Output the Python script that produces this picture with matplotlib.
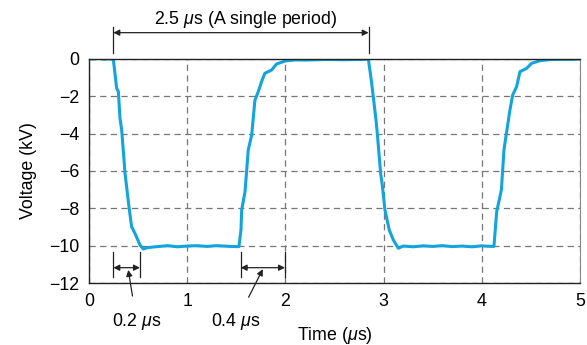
import matplotlib
matplotlib.use("Agg")
import matplotlib.pyplot as plt

plt.rcParams['font.family'] = ['Liberation Sans', 'DejaVu Sans']
plt.rcParams['mathtext.fontset'] = 'custom'
plt.rcParams['mathtext.rm'] = 'Liberation Sans'
plt.rcParams['mathtext.it'] = 'Liberation Sans:italic'

TRACE_COLOR = '#12a4dd'
FS = 12.8

# scope trace (time in us, voltage in kV)
time_us = [
    0.00, 0.05, 0.10, 0.15, 0.20, 0.248, 0.265, 0.282, 0.299, 0.316, 0.333,
    0.367, 0.407, 0.434, 0.468, 0.519, 0.553, 0.60, 0.70, 0.80, 0.90, 1.00,
    1.10, 1.20, 1.30, 1.40, 1.50, 1.527, 1.548, 1.555, 1.589, 1.622, 1.657,
    1.69, 1.724, 1.758, 1.79, 1.86, 1.91, 1.996, 2.10, 2.20, 2.40, 2.60,
    2.80, 2.845, 2.879, 2.895, 2.923, 2.936, 2.97, 2.987, 3.014, 3.058, 3.10,
    3.15, 3.20, 3.30, 3.40, 3.50, 3.60, 3.70, 3.80, 3.90, 4.00, 4.10, 4.124,
    4.152, 4.178, 4.20, 4.226, 4.246, 4.287, 4.315, 4.355, 4.389, 4.457,
    4.508, 4.593, 4.70, 4.80, 4.93, 5.00,
]
voltage_kv = [
    0.02, 0.00, 0.03, -0.01, 0.01, -0.02, -0.80, -1.57, -1.75, -3.18, -3.80,
    -6.12, -7.91, -8.98, -9.34, -9.96, -10.18, -10.10, -10.05, -10.00, -10.06,
    -10.02, -10.00, -10.04, -10.00, -10.03, -10.05, -10.05, -9.16, -8.09,
    -7.11, -4.87, -4.07, -2.20, -1.75, -1.21, -0.77, -0.59, -0.27, -0.11,
    -0.05, -0.06, -0.03, -0.04, -0.02, 0.00, -1.30, -2.02, -3.27, -3.98,
    -6.12, -6.75, -8.09, -9.16, -9.70, -10.14, -10.02, -10.06, -10.01,
    -10.04, -10.00, -10.05, -10.02, -10.06, -10.01, -10.04, -10.04, -8.18,
    -7.55, -7.00, -4.87, -4.16, -2.73, -1.93, -1.48, -0.68, -0.50, -0.23,
    -0.09, -0.03, -0.02, -0.02, 0.00,
]

x_ticks = [0, 1, 2, 3, 4, 5]
y_ticks = [0, -2, -4, -6, -8, -10, -12]
y_tick_labels = ['0', '\u22122', '\u22124', '\u22126', '\u22128', '\u221210', '\u221212']

# dimension marks (start, end) in us
period_span = (0.248, 2.848)
fall_span = (0.248, 0.519)
rise_span = (1.545, 1.996)

fig = plt.figure(figsize=(5.87, 3.45), dpi=100)
ax = fig.add_axes([0.1516, 0.1797, 0.8364, 0.6493])

ax.plot(time_us, voltage_kv, color=TRACE_COLOR, linewidth=2.2, solid_joinstyle='round')

ax.set_xlim(0, 5)
ax.set_ylim(-12, 0)
ax.set_xticks(x_ticks)
ax.set_yticks(y_ticks)
ax.set_yticklabels(y_tick_labels)
ax.tick_params(length=0, labelsize=FS, pad=7)
ax.grid(True, color='#777777', linestyle=(0, (5, 3.5)), linewidth=0.9)
for side in ['left', 'bottom', 'top']:
    ax.spines[side].set_color('#222222')
    ax.spines[side].set_linewidth(1.0)
ax.spines['right'].set_color('#888888')

ax.set_xlabel('Time ($\\mu$s)', fontsize=FS, labelpad=11)
ax.set_ylabel('Voltage (kV)', fontsize=FS, labelpad=9)


def dimension(span, y, y0, y1):
    for xv in span:
        ax.plot([xv, xv], [y0, y1], color='#222222', linewidth=0.9, clip_on=False)
    ax.annotate('', xy=(span[0], y), xytext=(span[1], y),
                arrowprops=dict(arrowstyle='<|-|>', color='#222222', lw=0.9,
                                shrinkA=0, shrinkB=0, mutation_scale=9),
                annotation_clip=False)


# single period marker above the plot
dimension(period_span, 1.41, 0.30, 1.73)
ax.text(1.60, 2.12, '2.5 $\\mu$s (A single period)', fontsize=FS,
        ha='center', va='center', clip_on=False)

# rise / fall time markers
dimension(fall_span, -11.18, -10.32, -11.66)
dimension(rise_span, -11.18, -10.32, -11.66)

ax.annotate('0.2 $\\mu$s', xy=(0.40, -11.3), xytext=(0.485, -14.07),
            fontsize=FS, ha='center', va='center', annotation_clip=False,
            arrowprops=dict(arrowstyle='-|>', color='#222222', lw=0.9,
                            shrinkA=9, shrinkB=0, mutation_scale=9))
ax.annotate('0.4 $\\mu$s', xy=(1.77, -11.26), xytext=(1.50, -14.07),
            fontsize=FS, ha='center', va='center', annotation_clip=False,
            arrowprops=dict(arrowstyle='-|>', color='#222222', lw=0.9,
                            shrinkA=9, shrinkB=0, mutation_scale=9))

fig.savefig('out.png', dpi=100)
